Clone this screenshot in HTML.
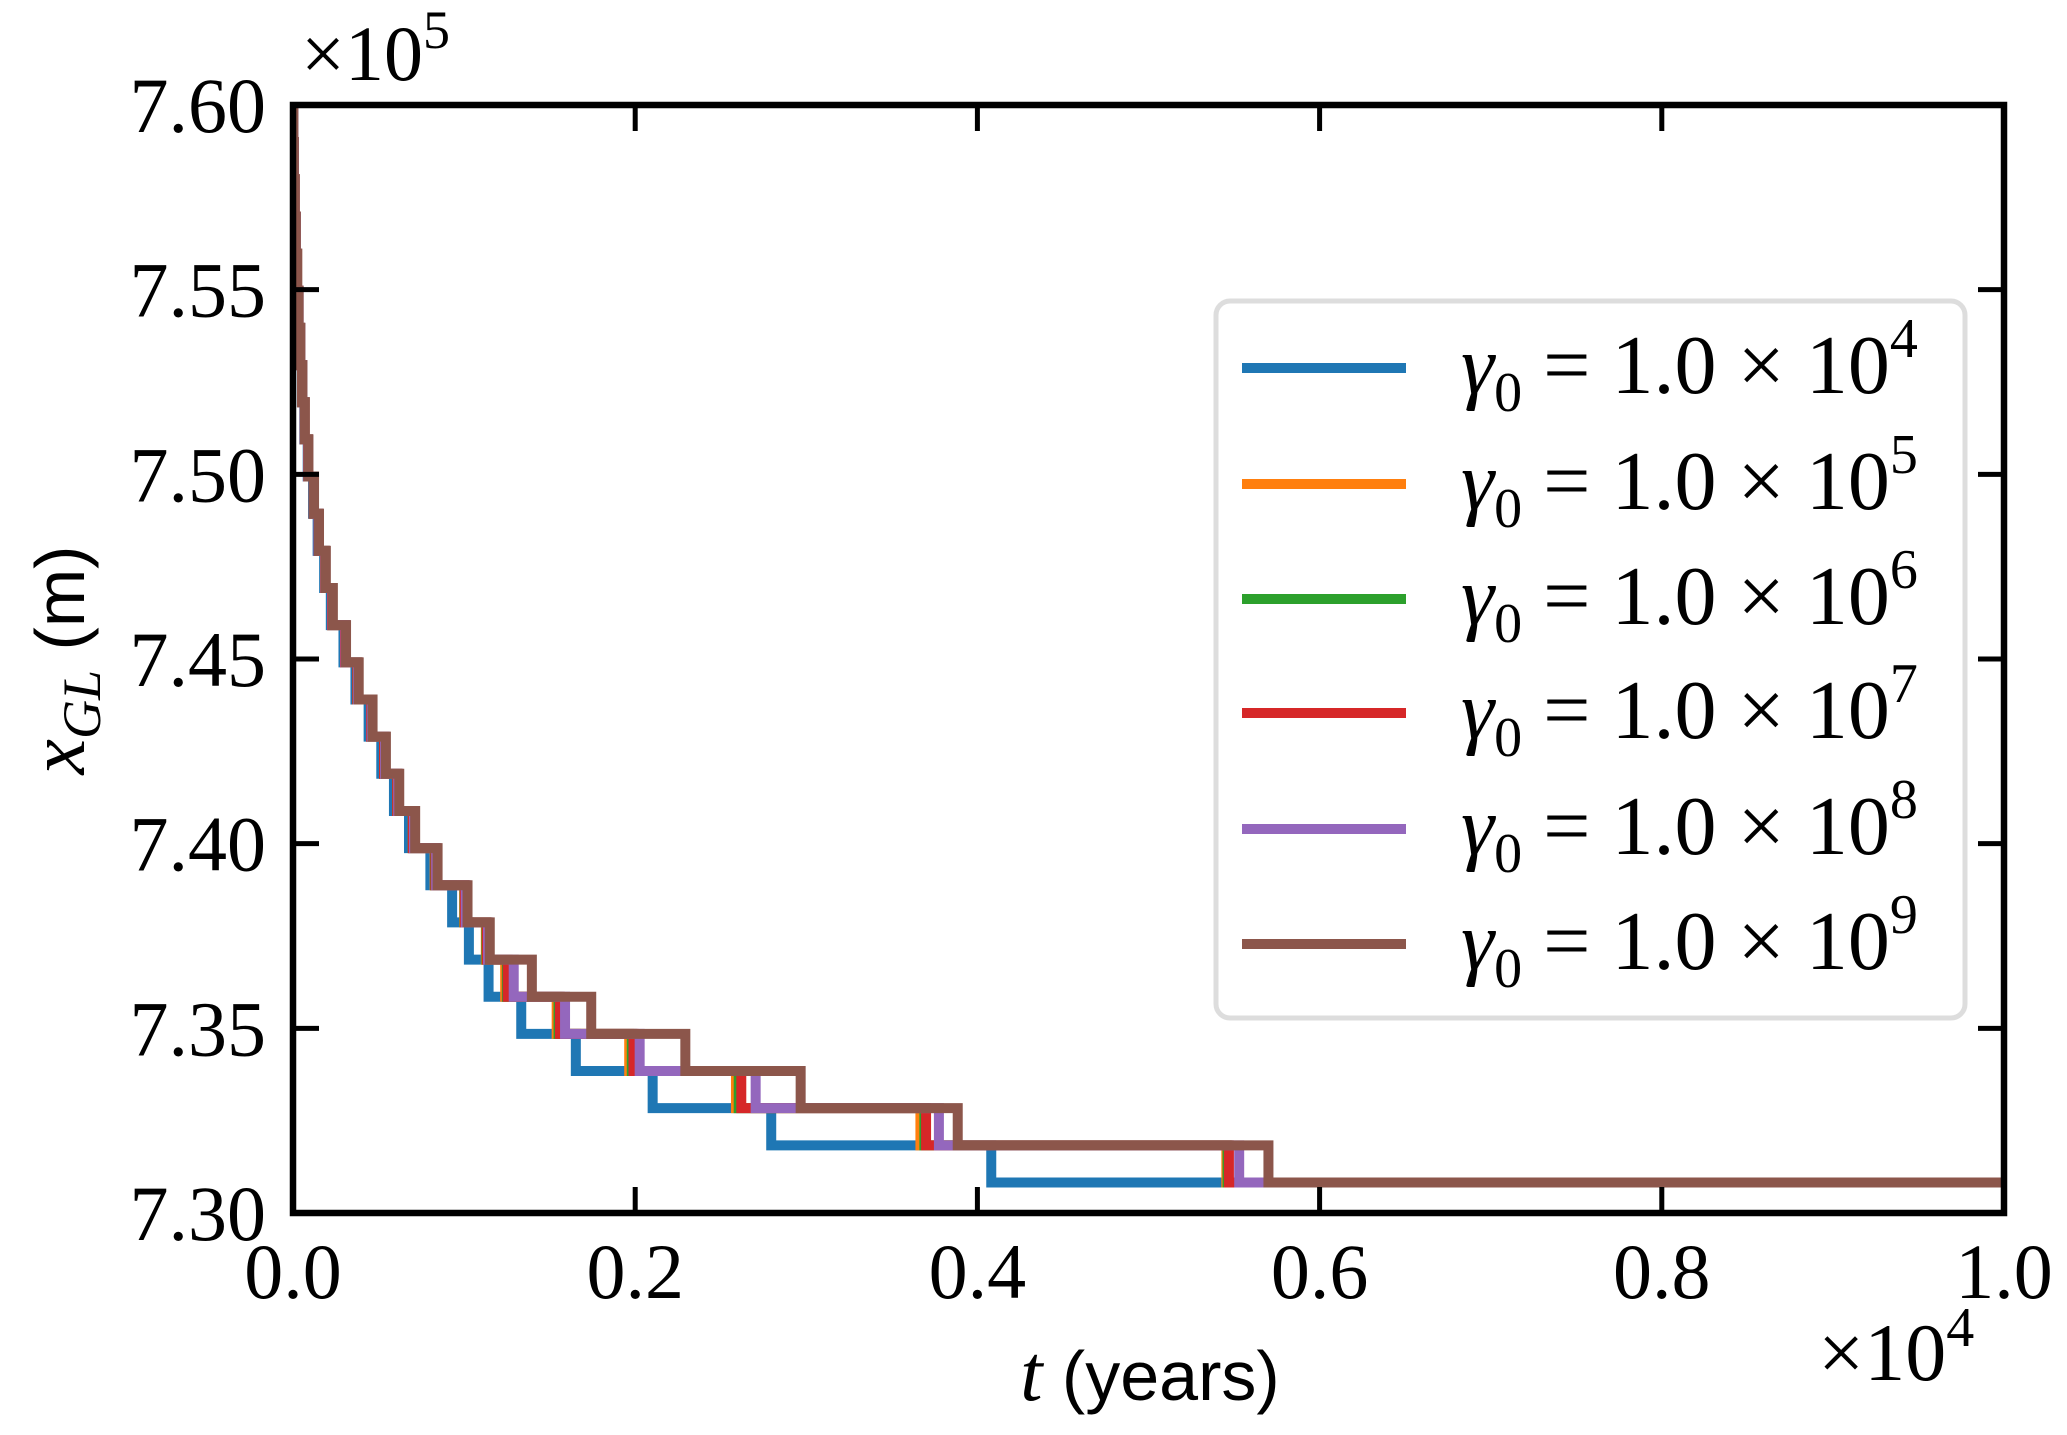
<!DOCTYPE html>
<html><head><meta charset="utf-8">
<style>
html,body{margin:0;padding:0;background:#fff;}
svg{display:block;}
text{font-family:"Liberation Serif","DejaVu Serif",serif;fill:#000;}
</style></head>
<body>
<svg id="chart" width="2067" height="1435" viewBox="0 0 2067 1435" xmlns="http://www.w3.org/2000/svg">
<g id="series"></g>
<g id="axes"></g>
<g id="legend"></g>
</svg>
<script>
// Data: times (years) at which each series drops by one step, starting from 7.60e5 m
const startLevel = 7.60;
const stepSize = 0.01006;
const blueDrops = [2,5,9,15,23,31,41,52,66,86,117,144,182,221,295,365,442,516,590,678,803,930,1028,1143,1334,1653,2102,2795,4081];
const orangeDrops = [2,5,10,16,24,32,42,54,68,88,121,149,188,228,304,376,456,532,609,700,828,1000,1127,1240,1541,1965,2589,3667,5455];
const greenDrops = [2,5,10,16,24,32,42,54,68,88,121,149,188,228,304,376,456,532,609,700,830,1002,1130,1250,1552,1980,2605,3690,5462];
const redDrops = [2,5,10,16,24,32,42,54,68,88,121,149,188,228,304,376,456,532,609,700,832,1004,1133,1255,1560,1990,2620,3700,5470];
const purpleDrops = [2,5,10,16,24,33,43,55,68,89,122,150,190,231,307,380,460,538,615,707,837,1010,1140,1290,1590,2026,2704,3775,5530];
const brownDrops = [2,5,10,16,24,33,43,55,69,90,123,152,192,233,310,384,465,543,621,714,845,1020,1150,1396,1743,2293,2967,3885,5701];
const seriesNames = ["1.0e4","1.0e5","1.0e6","1.0e7","1.0e8","1.0e9"];
const legendExps = ["4","5","6","7","8","9"];
const xTicks = [0,2000,4000,6000,8000,10000];
const xTickLabels = ["0.0","0.2","0.4","0.6","0.8","1.0"];
const yTicks = [7.30,7.35,7.40,7.45,7.50,7.55,7.60];
const yTickLabels = ["7.30","7.35","7.40","7.45","7.50","7.55","7.60"];

const NS="http://www.w3.org/2000/svg";
const L=293,R=2004,T=105,B=1213;
const xMin=0,xMax=10000,yMin=7.30,yMax=7.60;
function sx(t){return L+(t-xMin)/(xMax-xMin)*(R-L);}
function sy(v){return B-(v-yMin)/(yMax-yMin)*(B-T);}
function mk(tag,attrs,parent){const e=document.createElementNS(NS,tag);for(const k in attrs)e.setAttribute(k,attrs[k]);parent.appendChild(e);return e;}

const colors=["#1f77b4","#ff7f0e","#2ca02c","#d62728","#9467bd","#8c564b"];
const allDrops=[blueDrops,orangeDrops,greenDrops,redDrops,purpleDrops,brownDrops];
const defs=mk('defs',{},document.getElementById('chart'));
const cp=mk('clipPath',{id:'clip'},defs);
mk('rect',{x:L,y:T,width:R-L,height:B-T},cp);
const sg=document.getElementById('series');
allDrops.forEach((drops,i)=>{
  let lvl=startLevel;
  let d="M"+sx(0)+","+sy(lvl);
  drops.forEach(t=>{
    d+=" L"+sx(t)+","+sy(lvl);
    lvl=lvl-stepSize;
    d+=" L"+sx(t)+","+sy(lvl);
  });
  d+=" L"+sx(xMax)+","+sy(lvl);
  const p=mk('path',{d:d,fill:'none',stroke:colors[i],'stroke-width':10,'stroke-linejoin':'miter','clip-path':'url(#clip)'},sg);
  
  
});

const ax=document.getElementById('axes');
xTicks.forEach((t,i)=>{
  const x=sx(t);
  const a=mk('line',{x1:x,y1:B,x2:x,y2:B-26,stroke:'#000','stroke-width':5},ax);
  
  
  mk('line',{x1:x,y1:T,x2:x,y2:T+26,stroke:'#000','stroke-width':5},ax);
  const tx=mk('text',{x:x,y:1298,'text-anchor':'middle','font-size':78},ax);
  tx.textContent=xTickLabels[i];
  
  
});
yTicks.forEach((v,i)=>{
  const y=sy(v);
  const a=mk('line',{x1:L,y1:y,x2:L+26,y2:y,stroke:'#000','stroke-width':5},ax);
  
  
  mk('line',{x1:R,y1:y,x2:R-26,y2:y,stroke:'#000','stroke-width':5},ax);
  const tx=mk('text',{x:266,y:y+27,'text-anchor':'end','font-size':78},ax);
  tx.textContent=yTickLabels[i];
  
  
});
const frame=mk('rect',{x:L,y:T,width:R-L,height:B-T,fill:'none',stroke:'#000','stroke-width':6.5},ax);



const lg=document.getElementById('legend');
const box=mk('rect',{x:1216,y:301,width:749,height:717,rx:14,fill:'#fff',stroke:'#dcdcdc','stroke-width':5,opacity:0.95},lg);


const ly=[368,484,599,713,829,944];
colors.forEach((c,i)=>{
  const g=mk('g',{},lg);
  
  
  mk('line',{x1:1242,y1:ly[i],x2:1406,y2:ly[i],stroke:c,'stroke-width':10},g);
  const t=mk('text',{x:1461,y:ly[i]+25,'font-size':84},g);
  t.innerHTML='<tspan font-style="italic">γ</tspan><tspan font-size="56" dy="18">0</tspan><tspan dy="-18"> = 1.0 × 10</tspan><tspan font-size="56" dy="-36">'+legendExps[i]+'</tspan>';
});
</script>
<div style="position:absolute;left:0;top:0;width:2067px;height:1435px;pointer-events:none">
<svg width="2067" height="1435" xmlns="http://www.w3.org/2000/svg">
<text x="301" y="80" font-size="78" font-family="Liberation Serif, serif">×10<tspan font-size="54" dy="-32">5</tspan></text>
<text x="1818" y="1380" font-size="82" font-family="Liberation Serif, serif">×10<tspan font-size="56" dy="-34">4</tspan></text>
<text x="1150" y="1400" text-anchor="middle" font-size="80"><tspan font-style="italic" font-family="Liberation Serif, serif">t</tspan><tspan font-family="Liberation Sans, sans-serif" font-size="70"> (years)</tspan></text>
<g transform="translate(84,660) rotate(-90)">
<text x="0" y="0" text-anchor="middle" font-size="80"><tspan font-style="italic" font-family="Liberation Serif, serif">x</tspan><tspan font-style="italic" font-size="54" dy="16" font-family="Liberation Serif, serif">GL</tspan><tspan dy="-16" font-family="Liberation Sans, sans-serif" font-size="70"> (m)</tspan></text>
</g>
</svg></div>
</body></html>
